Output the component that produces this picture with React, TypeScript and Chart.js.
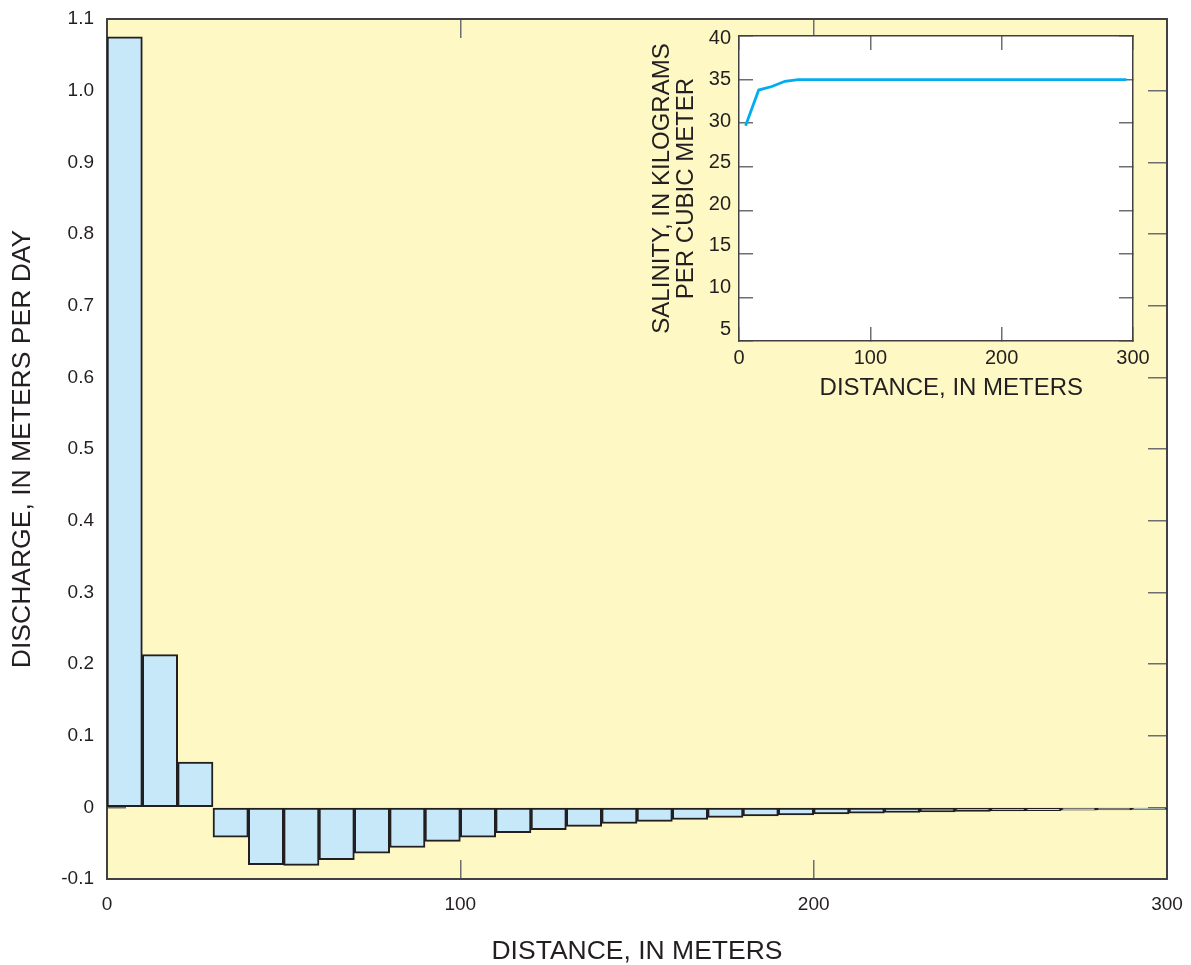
import React, { useEffect, useRef } from 'react';
import { Chart, registerables } from 'chart.js';

Chart.register(...registerables);

// ---- data ----
const distances = [5, 15, 25, 35, 45, 55, 65, 75, 85, 95, 105, 115, 125, 135, 145, 155, 165, 175, 185, 195, 205, 215, 225, 235, 245, 255, 265, 275, 285, 295];
const discharge = [1.075, 0.213, 0.063, -0.0415, -0.08, -0.081, -0.073, -0.064, -0.056, -0.0475, -0.0415, -0.0355, -0.031, -0.0265, -0.0225, -0.0195, -0.017, -0.014, -0.012, -0.0107, -0.0093, -0.008, -0.007, -0.0065, -0.0056, -0.0051, -0.0047, -0.004, -0.0035, -0.003];
const salinity = [29.7, 33.8, 34.2, 34.8, 35.0, 35.0, 35.0, 35.0, 35.0, 35.0, 35.0, 35.0, 35.0, 35.0, 35.0, 35.0, 35.0, 35.0, 35.0, 35.0, 35.0, 35.0, 35.0, 35.0, 35.0, 35.0, 35.0, 35.0, 35.0, 35.0];
const mainXTicks = [0, 100, 200, 300];
const mainYTicks = [-0.1, 0, 0.1, 0.2, 0.3, 0.4, 0.5, 0.6, 0.7, 0.8, 0.9, 1.0, 1.1];
const insetXTicks = [0, 100, 200, 300];
const insetYTicks = [5, 10, 15, 20, 25, 30, 35, 40];

// ---- styles ----
const FONT = '"Liberation Sans", Arial, Helvetica, sans-serif';
const TEXT = '#231F20';
const TICK = '#6D6E71';
const BORDER = '#414042';
const YELLOW = '#FEF9C4';
const BLUE = '#C7E8F8';
const CYAN = '#00AEEF';

const areaFill = (color: string) => ({
  id: 'areaFill',
  beforeDraw(chart: any) {
    const { ctx, chartArea } = chart;
    ctx.save();
    ctx.fillStyle = color;
    ctx.fillRect(chartArea.left, chartArea.top, chartArea.right - chartArea.left, chartArea.bottom - chartArea.top);
    ctx.restore();
  },
});

const setTicks = (vals: number[]) => (s: any) => {
  s.ticks = vals.map((v) => ({ value: v }));
};

const fixSize = (w: number | null, h: number | null) => (s: any) => {
  if (w !== null) s.width = w;
  if (h !== null) s.height = h;
  s.paddingTop = 0;
  s.paddingBottom = 0;
  s.paddingLeft = 0;
  s.paddingRight = 0;
};

export default function App() {
  const mainRef = useRef<HTMLCanvasElement>(null);
  const insetRef = useRef<HTMLCanvasElement>(null);

  useEffect(() => {
    const mainGrid = { drawOnChartArea: false, tickLength: -19, color: TICK, lineWidth: 1.5, offset: false };
    const mainBorder = { display: true, color: BORDER, width: 2 };
    const main = new Chart(mainRef.current!, {
      type: 'bar',
      data: {
        datasets: [
          {
            data: distances.map((d, i) => ({ x: d, y: discharge[i] })),
            backgroundColor: BLUE,
            borderColor: TEXT,
            borderWidth: 2,
            borderSkipped: false,
            barPercentage: 1,
            categoryPercentage: 1,
          } as any,
        ],
      },
      options: {
        animation: false,
        responsive: false,
        devicePixelRatio: 1,
        layout: { padding: { left: 0, top: 19, right: 24, bottom: 0 } },
        plugins: { legend: { display: false }, tooltip: { enabled: false } },
        scales: {
          x: {
            type: 'linear',
            position: 'bottom',
            min: 0,
            max: 300,
            offset: false,
            afterBuildTicks: setTicks(mainXTicks),
            afterFit: fixSize(null, 86),
            ticks: { color: TEXT, font: { family: FONT, size: 19 }, padding: 33, maxRotation: 0, autoSkip: false },
            grid: mainGrid,
            border: mainBorder,
            title: { display: true, text: 'DISTANCE, IN METERS', color: TEXT, font: { family: FONT, size: 26.5, lineHeight: 1 }, padding: { top: 0, bottom: 0 } },
          },
          xTop: {
            type: 'linear',
            position: 'top',
            min: 0,
            max: 300,
            offset: false,
            afterBuildTicks: setTicks(mainXTicks),
            afterFit: fixSize(null, 0),
            ticks: { display: false },
            grid: mainGrid,
            border: mainBorder,
          },
          y: {
            type: 'linear',
            position: 'left',
            min: -0.1,
            max: 1.1,
            afterBuildTicks: setTicks(mainYTicks),
            afterFit: fixSize(107, null),
            ticks: {
              color: TEXT,
              font: { family: FONT, size: 19 },
              padding: 32,
              autoSkip: false,
              callback: (v: any) => (Math.abs(Number(v)) < 1e-9 ? '0' : Number(v).toFixed(1)),
            },
            grid: mainGrid,
            border: mainBorder,
            title: { display: true, text: 'DISCHARGE, IN METERS PER DAY', color: TEXT, font: { family: FONT, size: 26.5, lineHeight: 1 }, padding: { top: 9, bottom: 0 } },
          },
          yRight: {
            type: 'linear',
            position: 'right',
            min: -0.1,
            max: 1.1,
            afterBuildTicks: setTicks(mainYTicks),
            afterFit: fixSize(0, null),
            ticks: { display: false },
            grid: mainGrid,
            border: mainBorder,
          },
        },
      } as any,
      plugins: [areaFill(YELLOW)],
    });

    const inGrid = { drawOnChartArea: false, tickLength: -14, color: TICK, lineWidth: 1.5, offset: false };
    const inBorder = { display: true, color: BORDER, width: 1.5 };
    const inset = new Chart(insetRef.current!, {
      type: 'line',
      data: {
        datasets: [
          {
            data: distances.map((d, i) => ({ x: d, y: salinity[i] })),
            borderColor: CYAN,
            borderWidth: 2.8,
            pointRadius: 0,
            fill: false,
            tension: 0,
            yAxisID: 'y',
            xAxisID: 'x',
          } as any,
        ],
      },
      options: {
        animation: false,
        responsive: false,
        devicePixelRatio: 1,
        layout: { padding: { left: 0, top: 16, right: 27, bottom: 0 } },
        plugins: { legend: { display: false }, tooltip: { enabled: false } },
        scales: {
          x: {
            type: 'linear',
            position: 'bottom',
            min: 0,
            max: 300,
            afterBuildTicks: setTicks(insetXTicks),
            afterFit: fixSize(null, 69),
            ticks: { color: TEXT, font: { family: FONT, size: 20 }, padding: 19, maxRotation: 0, autoSkip: false },
            grid: inGrid,
            border: inBorder,
            title: { display: true, text: '\u2002\u2002 DISTANCE, IN METERS', color: TEXT, font: { family: FONT, size: 24, lineHeight: 1 }, padding: { top: 0, bottom: 10 } },
          },
          xTop: {
            type: 'linear',
            position: 'top',
            min: 0,
            max: 300,
            afterBuildTicks: setTicks(insetXTicks),
            afterFit: fixSize(null, 0),
            ticks: { display: false },
            grid: inGrid,
            border: inBorder,
          },
          yLab: {
            type: 'linear',
            position: 'left',
            weight: 1,
            min: 3.557,
            max: 40.24,
            afterBuildTicks: setTicks(insetYTicks),
            afterFit: fixSize(109, null),
            ticks: { color: TEXT, font: { family: FONT, size: 20 }, padding: 8, autoSkip: false },
            grid: { display: false, drawTicks: false },
            border: { display: false },
            title: {
              display: true,
              text: ['SALINITY, IN KILOGRAMS', 'PER CUBIC METER'],
              color: TEXT,
              font: { family: FONT, size: 24, lineHeight: 1 },
              padding: { top: 20, bottom: 0 },
            },
          },
          y: {
            type: 'linear',
            position: 'left',
            weight: 0,
            min: 5,
            max: 40,
            afterBuildTicks: setTicks(insetYTicks),
            afterFit: fixSize(0, null),
            ticks: { display: false },
            grid: inGrid,
            border: inBorder,
          },
          yRight: {
            type: 'linear',
            position: 'right',
            min: 5,
            max: 40,
            afterBuildTicks: setTicks(insetYTicks),
            afterFit: fixSize(0, null),
            ticks: { display: false },
            grid: inGrid,
            border: inBorder,
          },
        },
      } as any,
      plugins: [areaFill('#FFFFFF')],
    });

    return () => {
      main.destroy();
      inset.destroy();
    };
  }, []);

  return (
    <div style={{ position: 'absolute', left: 0, top: 0, width: 1191, height: 965, background: '#FFFFFF' }}>
      <canvas ref={mainRef} width={1191} height={965} style={{ position: 'absolute', left: 0, top: 0 }} />
      <canvas ref={insetRef} width={530} height={390} style={{ position: 'absolute', left: 630, top: 20 }} />
    </div>
  );
}
